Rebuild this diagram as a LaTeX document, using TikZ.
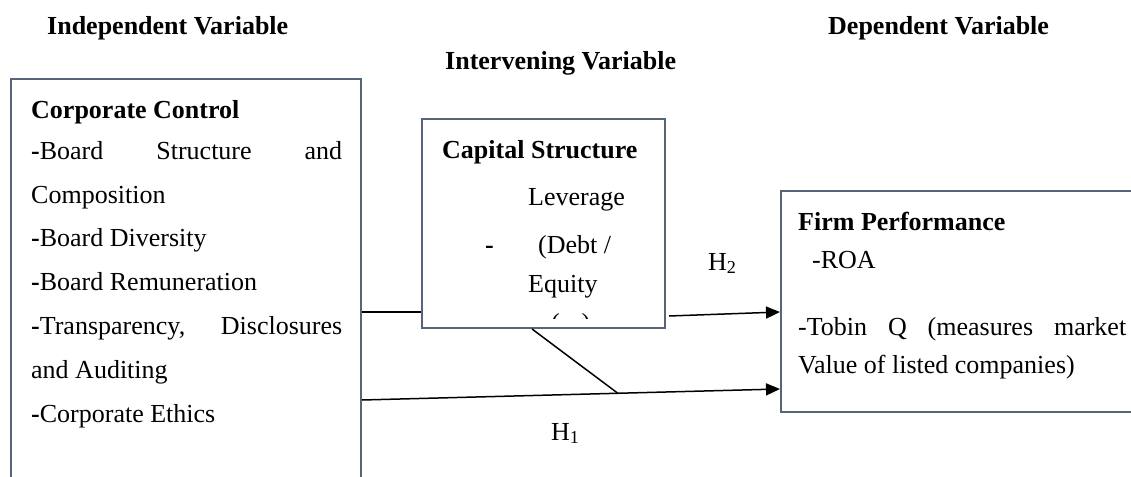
\documentclass[tikz,border=0pt]{standalone}
\usepackage{fontspec}
\setmainfont{Liberation Serif}
\usetikzlibrary{arrows.meta,calc}
\definecolor{boxc}{RGB}{88,100,122}
\begin{document}
\begin{tikzpicture}[x=1pt,y=-1pt,
  box/.style={draw=boxc, line width=2pt, inner sep=0pt, fill=white},
  txt/.style={anchor=base west, inner sep=0pt, font=\fontsize{26}{30}\selectfont},
  btxt/.style={anchor=base west, inner sep=0pt, font=\fontsize{26}{30}\selectfont\bfseries},
  conn/.style={line width=1.5pt, black},
  arr/.style={conn, -{Triangle[length=14pt,width=12pt]}}]
\useasboundingbox (0,0) rectangle (1131,476);
\fill[white] (0,0) rectangle (1131,476);
\clip (0,0) rectangle (1131,476);

% headers
\node[btxt] (hind) at (47,35) {Independent Variable};
\node[btxt] (hint) at (445,70) {Intervening Variable};
\node[btxt] (hdep) at (828,35) {Dependent Variable};

% boxes
\node[box, minimum width=350pt, minimum height=441pt] (cc) at (186,299.5) {};
\node[box, minimum width=243pt, minimum height=209pt] (cs) at (543.5,223.5) {};
\node[box, minimum width=379pt, minimum height=221pt] (fp) at (970.5,301.5) {};

% corporate control text
\node[btxt] (cc0) at (31,118) {Corporate Control};
\node[txt] (cc1) at (31,159) {\hbox to 311pt{\textbf{-}Board\hfill Structure\hfill and}};
\node[txt] (cc2) at (31,203) {Composition};
\node[txt] (cc3) at (31,246) {\textbf{-}Board Diversity};
\node[txt] (cc4) at (31,290) {\textbf{-}Board Remuneration};
\node[txt] (cc5) at (31,334) {\hbox to 311pt{\textbf{-}Transparency,\hfill Disclosures}};
\node[txt] (cc6) at (31,378) {and Auditing};
\node[txt] (cc7) at (31,422) {\textbf{-}Corporate Ethics};

% capital structure text
\node[btxt] (cs0) at (442,158) {Capital Structure};
\node[txt] (cs1) at (528,205) {Leverage};
\node[txt] (cs2) at (485,253) {\textbf{-}};
\node[txt] (cs3) at (538,253) {(Debt /};
\node[txt] (cs4) at (528,292) {Equity};
\begin{scope}
  \clip (424,300) rectangle (663,318);
  \node[txt] (cs5) at (551,331) {(\,x\,)};
\end{scope}

% firm performance text
\node[btxt] (fp0) at (798,230) {Firm Performance};
\node[txt] (fp1) at (812,268) {-ROA};
\node[txt] (fp2) at (798,335) {\hbox to 328pt{-Tobin\hfill Q\hfill (measures\hfill market}};
\node[txt] (fp3) at (798,373) {Value of listed companies)};

% connector endpoints
\coordinate (a0) at (cc.east |- 0,312);
\coordinate (a1) at (cs.west |- 0,312);
\coordinate (b0) at ($(cs.east |- 0,316)+(3,0)$);
\coordinate (b1) at (fp.west |- 0,312);
\coordinate (c0) at (cc.east |- 0,400);
\coordinate (c1) at (fp.west |- 0,389);
\coordinate (d0) at (cs.south -| 532,0);
\coordinate (d1) at ($(c0)!0.612!(c1)$);

\draw[conn] (a0) -- (a1);
\draw[arr] (b0) -- (b1);
\draw[arr] (c0) -- (c1);
\draw[conn] (d0) -- (d1);

% labels
\node[txt] (h2) at (708,270) {H\textsubscript{2}};
\node[txt] (h1) at (551,440) {H\textsubscript{1}};
\end{tikzpicture}
\end{document}
